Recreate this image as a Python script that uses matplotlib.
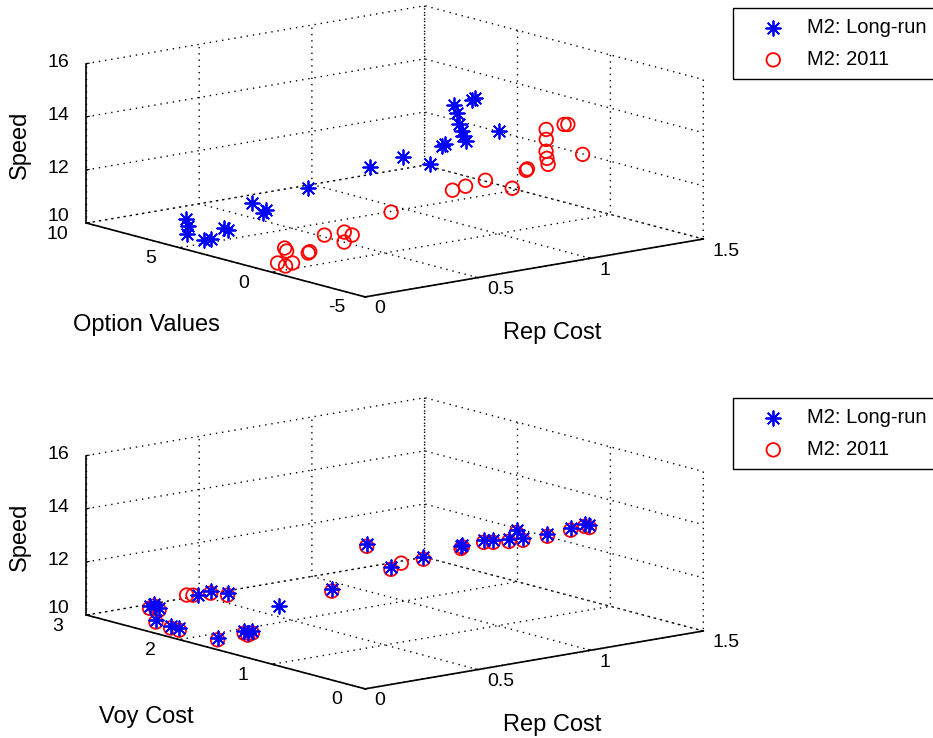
import matplotlib.pyplot as plt
import numpy as np
from mpl_toolkits.mplot3d import proj3d

plt.rcParams['font.family'] = ['Liberation Sans', 'DejaVu Sans']
plt.rcParams['font.size'] = 14
plt.rcParams['axes.unicode_minus'] = False
plt.rcParams['grid.linestyle'] = (0, (1, 3.5))
plt.rcParams['grid.color'] = 'black'
plt.rcParams['grid.linewidth'] = 1.0

# --- upper panel: Rep Cost / Option Values / Speed ---
rep_lr = [0.146, 0.135, 0.105, 0.117, 0.146, 0.184, 0.174, 0.323, 0.333, 0.344,
          0.52, 0.737, 0.846, 0.901, 0.929, 0.942, 0.952, 0.95, 0.952, 0.957,
          0.965, 0.961, 0.997, 1.0, 1.10]
opt_lr = [6.42, 6.17, 5.87, 5.10, 5.07, 4.84, 4.51, 5.03, 4.56, 4.53,
          4.37, 3.68, 3.24, 2.46, 2.11, 2.15, 1.79, 1.61, 1.52, 1.42,
          1.42, 1.25, 1.37, 1.21, 1.12]
speed_lr = [10.6, 10.4, 10.2, 10.1, 10.1, 10.5, 10.5, 11.2, 10.9, 11.0,
            11.6, 12.2, 12.5, 12.3, 13.0, 13.05, 14.6, 14.3, 13.9, 13.65,
            13.45, 13.3, 14.8, 14.9, 13.5]

rep_11 = [0.172, 0.174, 0.082, 0.10, 0.122, 0.158, 0.162, 0.276, 0.36, 0.324,
          0.285, 0.50, 0.726, 0.775, 0.835, 0.88, 0.911, 0.915, 0.948, 0.955,
          0.941, 0.94, 0.936, 0.993, 1.003, 1.09]
opt_11 = [1.42, 1.34, 0.71, 0.50, 0.39, -0.02, -0.05, 0.54, 0.49, -0.37,
          -0.41, -0.33, -0.89, -1.0, -1.34, -2.24, -2.61, -2.63, -3.24, -3.16,
          -3.32, -3.38, -3.49, -3.66, -3.74, -3.48]
speed_11 = [10.4, 10.3, 10.1, 10.0, 10.1, 10.5, 10.55, 10.9, 10.9, 11.0,
            10.8, 11.6, 12.2, 12.3, 12.5, 12.3, 13.0, 13.05, 14.6, 14.2,
            13.8, 13.55, 13.35, 14.8, 14.8, 13.5]

# --- lower panel: Rep Cost / Voy Cost / Speed ---
rep_lr_v = [0.152, 0.159, 0.186, 0.11, 0.089, 0.09, 0.262, 0.308, 0.333, 0.12,
            0.18, 0.204, 0.184, 0.287, 0.466, 0.584, 0.658, 0.794, 0.924, 0.93,
            1.02, 1.046, 1.07, 1.10, 1.12, 1.20, 1.27, 1.32, 1.32]
voy_lr = [2.69, 2.66, 2.67, 2.52, 2.31, 2.22, 2.43, 2.41, 2.29, 1.88,
          1.74, 1.71, 1.71, 1.62, 1.49, 1.40, 1.32, 1.30, 1.21, 1.21,
          1.20, 1.16, 1.05, 1.04, 1.02, 0.95, 0.87, 0.84, 0.79]
speed_lr_v = [10.4, 10.5, 10.3, 10.1, 10.1, 10.1, 10.9, 11.0, 11.0, 10.0,
              10.3, 10.3, 10.25, 11.2, 11.7, 13.3, 12.4, 12.6, 12.9, 12.95,
              13.0, 13.0, 13.1, 13.4, 13.1, 13.2, 13.4, 13.5, 13.5]

rep_11_v = [0.152, 0.159, 0.186, 0.11, 0.089, 0.09, 0.23, 0.246, 0.308, 0.333,
            0.12, 0.18, 0.204, 0.184, 0.466, 0.584, 0.658, 0.70, 0.794, 0.924,
            0.93, 1.02, 1.046, 1.07, 1.10, 1.12, 1.20, 1.27, 1.32, 1.32]
voy_11 = [2.69, 2.66, 2.67, 2.52, 2.31, 2.22, 2.48, 2.45, 2.41, 2.29,
          1.88, 1.74, 1.71, 1.71, 1.49, 1.40, 1.32, 1.31, 1.30, 1.21,
          1.21, 1.20, 1.16, 1.05, 1.04, 1.02, 0.95, 0.87, 0.84, 0.79]
speed_11_v = [10.32, 10.42, 10.22, 10.02, 10.02, 10.02, 10.9, 10.9, 10.92, 10.92,
              9.93, 10.22, 10.22, 10.17, 11.62, 13.22, 12.32, 12.5, 12.52, 12.82,
              12.87, 12.92, 12.92, 13.02, 13.32, 13.02, 13.12, 13.32, 13.42, 13.42]

rep_ticks = [0, 0.5, 1, 1.5]
rep_labels = ['0', '0.5', '1', '1.5']
speed_ticks = [10, 12, 14, 16]
opt_ticks = [-5, 0, 5, 10]
voy_ticks = [0, 1, 2, 3]


def setup(ax, yticks):
    ax.set_proj_type('ortho')
    ax.view_init(elev=12.3, azim=-128.8)
    ax.set_box_aspect((436, 447, 164), zoom=1.69)
    ax.computed_zorder = False
    ax.set_xlim(0, 1.5)
    ax.set_ylim(yticks[0], yticks[-1])
    ax.set_zlim(10, 16)
    ax.set_xticks(rep_ticks)
    ax.set_yticks(yticks)
    ax.set_zticks(speed_ticks)
    for axis in (ax.xaxis, ax.yaxis, ax.zaxis):
        axis.set_tick_params(labelbottom=False, labeltop=False)
        axis.label.set_visible(False)
        axis.offsetText.set_visible(False)
        axis.set_pane_color((1, 1, 1, 0))
        axis.pane.set_edgecolor('none')
        axis.line.set_color('black')
        axis.line.set_linewidth(1.2)
        axis._axinfo['tick']['inward_factor'] = 0.0
        axis._axinfo['tick']['outward_factor'] = 0.1


def label_at(ax, x, y, z, s, **kw):
    # project a 3D point to figure coords and drop a plain 2D text there
    px, py, _ = proj3d.proj_transform(x, y, z, ax.get_proj())
    fx, fy = fig.transFigure.inverted().transform(ax.transData.transform((px, py)))
    fig.text(fx, fy, s, **kw)


def tick_labels(ax, yticks):
    # nudged off the box edges the way MATLAB puts them
    lo, hi = yticks[0], yticks[-1]
    span = hi - lo
    for t, s in zip(rep_ticks, rep_labels):
        label_at(ax, t, lo - 0.033 * span, 9.64, s, ha='left', va='center')
    for t in yticks:
        label_at(ax, -0.128, t, 9.77, str(t), ha='center', va='center')
    for t in speed_ticks:
        dz = 0.12 if t == 10 else -0.07
        label_at(ax, -0.045, hi + 0.064 * span, t + dz, str(t), ha='center', va='center')


fig = plt.figure(figsize=(9.33, 7.38), dpi=100)
ax1 = fig.add_axes([0.0179, 0.5382, 0.8, 0.5], projection='3d')
ax2 = fig.add_axes([0.0179, 0.0071, 0.8, 0.5], projection='3d')

setup(ax1, opt_ticks)
setup(ax2, voy_ticks)

star = (8, 2, 0)
ax1.scatter(rep_lr, opt_lr, speed_lr, marker=star, s=110, c='blue', clip_on=False,
            linewidths=1.3, depthshade=False, label='M2: Long-run')
ax1.scatter(rep_11, opt_11, speed_11, marker='o', s=95, facecolors='none', clip_on=False,
            edgecolors='red', linewidths=1.3, depthshade=False, label='M2: 2011')

ax2.scatter(rep_11_v, voy_11, speed_11_v, marker='o', s=95, facecolors='none',
            clip_on=False, edgecolors='red', linewidths=1.3, depthshade=False)
ax2.scatter(rep_lr_v, voy_lr, speed_lr_v, marker=star, s=110, c='blue', clip_on=False,
            linewidths=1.3, depthshade=False)

# settle the 3D layout before projecting the tick label anchors
fig.canvas.draw()
tick_labels(ax1, opt_ticks)
tick_labels(ax2, voy_ticks)

# axis titles, placed in figure pixels
W, H = 933, 738
for dy, ylab in ((0, 'Option Values'), (392, 'Voy Cost')):
    fig.text(146 / W, 1 - (325 + dy) / H, ylab, ha='center', va='center', fontsize=17)
    fig.text(552 / W, 1 - (333 + dy) / H, 'Rep Cost', ha='center', va='center', fontsize=17)
    fig.text(20 / W, 1 - (145 + dy) / H, 'Speed', ha='center', va='center',
             rotation=90, fontsize=17)

h, l = ax1.get_legend_handles_labels()
for top in (8, 398):
    leg = fig.legend(h, l, loc='upper left', bbox_to_anchor=(733 / W, 1 - top / H),
                     borderaxespad=0, fancybox=False, edgecolor='black', framealpha=1,
                     borderpad=0.5, handlelength=3.0, handletextpad=0.15,
                     labelspacing=0.65, fontsize=14.5)
    leg.get_frame().set_linewidth(1.0)

fig.savefig('out.png', dpi=100)
